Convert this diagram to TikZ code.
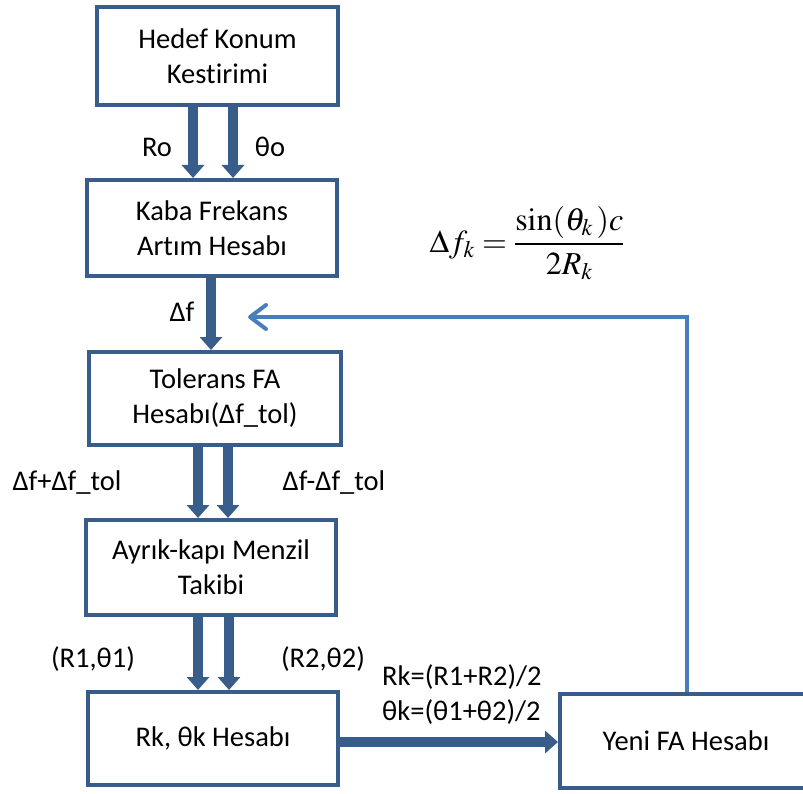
\documentclass[tikz,border=0pt]{standalone}
\usepackage{mathptmx}
\usepackage[no-math]{fontspec}
\setmainfont{Carlito}[Ligatures=NoCommon]
\usetikzlibrary{arrows.meta}
\definecolor{boxblue}{HTML}{385D8A}
\definecolor{linkblue}{HTML}{4A7EBB}
\begin{document}
\begin{tikzpicture}[x=1pt,y=-1pt,
  every node/.style={font=\fontsize{28.5}{35}\selectfont, text=black},
  blk/.style={draw=boxblue, line width=4pt, align=center, inner sep=0pt, fill=white},
  fat/.style={draw=boxblue, line width=10pt, -{Triangle[width=22pt,length=13pt]}},
  fb/.style={draw=linkblue, line width=4pt, line join=miter,
    -{Straight Barb[length=16pt,width=24pt,line cap=round,line join=round]}},
  lbl/.style={anchor=base, inner sep=0pt}]
\fill[white] (0,0) rectangle (803,794);
\useasboundingbox (0,0) rectangle (803,794);

% process blocks
\node[blk, minimum width=241pt, minimum height=98pt] (b1) at (217.5,56) {Hedef Konum\\Kestirimi};
\node[blk, minimum width=250pt, minimum height=96pt] (b2) at (212,228) {Kaba Frekans\\Artım Hesabı};
\node[blk, minimum width=252pt, minimum height=93pt] (b3) at (215,398.5) {Tolerans FA\\Hesabı(Δf\_tol)};
\node[blk, minimum width=250pt, minimum height=95pt] (b4) at (211,567.5) {Ayrık-kapı Menzil\\Takibi};
\node[blk, minimum width=250pt, minimum height=93pt] (b5) at (213,738.5) {Rk, θk Hesabı};
\node[blk, minimum width=252pt, minimum height=94pt] (b6) at (686,741) {Yeni FA Hesabı};

% column positions of the data arrows
\coordinate (cRo) at (193,0);
\coordinate (cTo) at (233,0);
\coordinate (cDf) at (211,0);
\coordinate (cP) at (198,0);
\coordinate (cM) at (228,0);
\coordinate (cA) at (198,0);
\coordinate (cB) at (229,0);
\coordinate (rowK) at (0,742);
\coordinate (fbx) at (687,0);
\coordinate (fbtip) at (248,317);

% data flow
\draw[fat] (b1.south -| cRo) -- (b2.north -| cRo);
\draw[fat] (b1.south -| cTo) -- (b2.north -| cTo);
\draw[fat] (b2.south -| cDf) -- (b3.north -| cDf);
\draw[fat] (b3.south -| cP) -- (b4.north -| cP);
\draw[fat] (b3.south -| cM) -- (b4.north -| cM);
\draw[fat] (b4.south -| cA) -- (b5.north -| cA);
\draw[fat] (b4.south -| cB) -- (b5.north -| cB);
\draw[fat] (b5.east |- rowK) -- (b6.west |- rowK);

% feedback of the new frequency increment
\draw[fb] (b6.north -| fbx) |- (fbtip);

% arrow labels
\node[lbl] (lRo) at (157,157) {Ro};
\node[lbl] (lTo) at (270,157) {θo};
\node[lbl] (lDf) at (182,322) {Δf};
\node[lbl] (lP) at (67,490) {Δf+Δf\_tol};
\node[lbl] (lM) at (334,490) {Δf-Δf\_tol};
\node[lbl] (lA) at (93,667) {(R1,θ1)};
\node[lbl] (lB) at (323,667) {(R2,θ2)};
\node[lbl, anchor=base west] (lRk) at (382,685) {Rk=(R1+R2)/2};
\node[lbl, anchor=base west] (lTk) at (382,720) {θk=(θ1+θ2)/2};

% frequency increment formula
\node[inner sep=0pt, font=\fontsize{32}{38}\selectfont, text=black] (eq) at (527,243)
  {$\displaystyle \Delta f_k = \frac{\sin(\theta_k\,)c}{2R_k}$};
\end{tikzpicture}
\end{document}
